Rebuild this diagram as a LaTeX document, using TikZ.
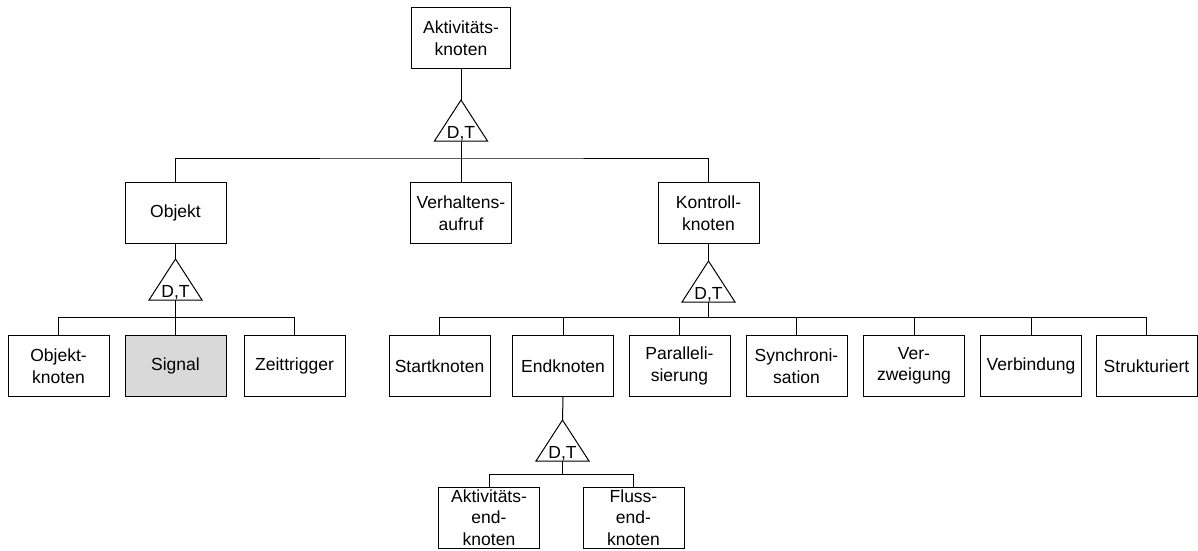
\documentclass[tikz,border=0pt]{standalone}
\usepackage{fontspec}
\setmainfont{Liberation Sans}
\definecolor{sigfill}{HTML}{D9D9D9}
\begin{document}
\begin{tikzpicture}[x=1pt,y=-1pt,line width=1pt,
  box/.style={draw,minimum width=101pt,minimum height=61pt,inner sep=0pt,align=center,font=\fontsize{17.5}{21.5}\selectfont},
  dtlabel/.style={inner sep=0pt,font=\fontsize{17.5}{21.5}\selectfont}]
\useasboundingbox (0,0) rectangle (1198,550);
% level 1
\node[box,minimum width=99pt] (akt) at (461,38) {Aktivitäts-\\knoten};
% level 2
\node[box] (obj) at (175.5,213) {Objekt};
\node[box] (verh) at (461,213) {Verhaltens-\\aufruf};
\node[box] (kontr) at (708.5,213) {Kontroll-\\knoten};
% level 3
\node[box] (objk) at (58.5,366) {Objekt-\\knoten};
\node[box,fill=sigfill] (sig) at (175.5,366) {Signal};
\node[box] (zeit) at (294.5,366) {Zeittrigger};
\node[box] (start) at (439.5,366) {Startknoten};
\node[box] (end) at (563,366) {Endknoten};
\node[box] (par) at (679.5,366) {Paralleli-\\sierung};
\node[box] (sync) at (796.5,366) {Synchroni-\\sation};
\node[box] (verz) at (914,366) {Ver-\\zweigung};
\node[box] (verb) at (1031,366) {Verbindung};
\node[box] (strukt) at (1146.5,366) {Strukturiert};
% level 4
\node[box] (aend) at (489,517.5) {Aktivitäts-\\end-\\knoten};
\node[box] (fend) at (633.5,517.5) {Fluss-\\end-\\knoten};
% triangles: apex coordinate, base centre coordinate
\newcommand\dttri[3]{%
  \coordinate (#1a) at (#2,#3);
  \coordinate (#1b) at (#2,#3+41);
  \draw (#2,#3) -- (#2-26.5,#3+41) -- (#2+26.5,#3+41) -- cycle;
  \node[dtlabel,anchor=base] (#1t) at (#2,#3+38) {D,T};}
\dttri{t1}{461}{100}
\dttri{t2}{175.5}{259}
\dttri{t3}{708.5}{261}
\dttri{t4}{562.5}{420}
% bars
\coordinate (b1) at (461,158);
\coordinate (b2) at (175.5,317);
\coordinate (b3) at (708.5,317);
\coordinate (b4) at (562.5,474);
% connectors
\draw (akt.south) -- (t1a);
\draw (t1b) -- (b1);
\draw (obj.north) |- (b1) -| (kontr.north);
\draw (verh.north) -- (verh.north |- b1);
\draw (obj.south) -- (t2a);
\draw (t2b) -- (b2);
\draw (objk.north) |- (b2) -| (zeit.north);
\draw (sig.north) -- (sig.north |- b2);
\draw (kontr.south) -- (t3a);
\draw (t3b) -- (b3);
\draw (start.north) |- (b3) -| (strukt.north);
\foreach \n in {end,par,sync,verz,verb} \draw (\n.north) -- (\n.north |- b3);
\draw (end.south) -- (t4a);
\draw (t4b) -- (b4);
\draw (aend.north) |- (b4) -| (fend.north);
\end{tikzpicture}
\end{document}
